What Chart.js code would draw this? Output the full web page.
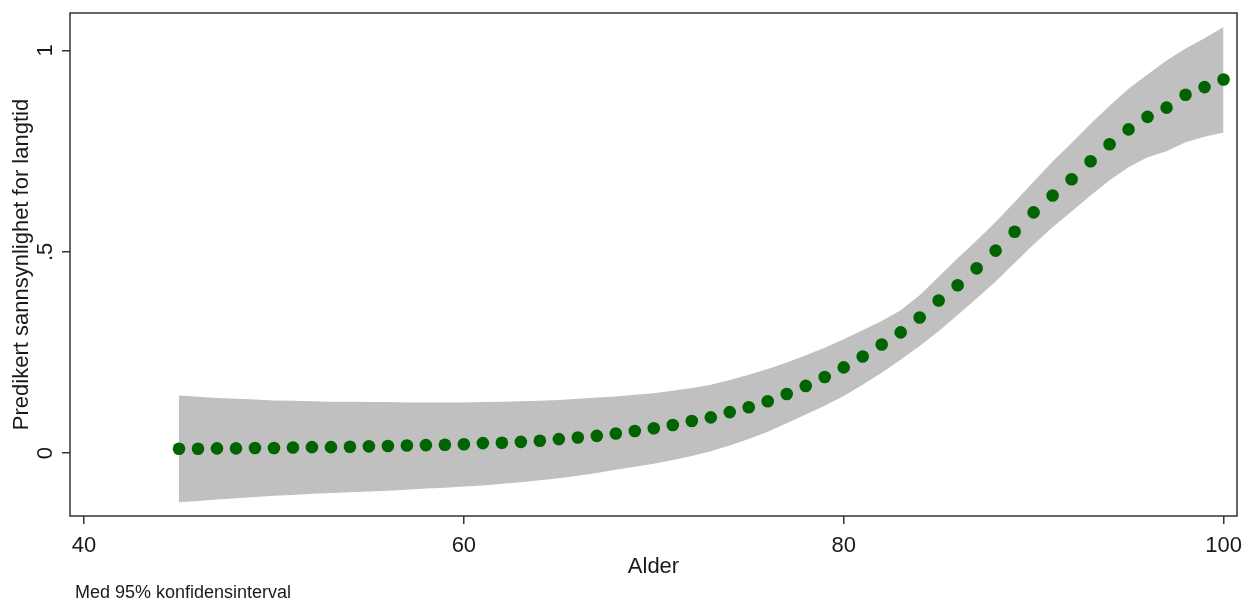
<!DOCTYPE html>
<html>
<head>
<meta charset="utf-8">
<script src="https://cdn.jsdelivr.net/npm/chart.js@4"></script>
<style>
  body { margin: 0; background: #fff; }
  #wrap { width: 1244px; height: 601px; position: relative; }
</style>
</head>
<body>
<div id="wrap"><canvas id="chart"></canvas></div>
<script>
// predicted probability by age, with 95% CI band
var ages = [45, 46, 47, 48, 49, 50, 51, 52, 53, 54, 55, 56, 57, 58, 59, 60, 61, 62, 63, 64,
            65, 66, 67, 68, 69, 70, 71, 72, 73, 74, 75, 76, 77, 78, 79, 80, 81, 82, 83, 84,
            85, 86, 87, 88, 89, 90, 91, 92, 93, 94, 95, 96, 97, 98, 99, 100];

var predicted = [0.011, 0.011, 0.012, 0.012, 0.013, 0.013, 0.014, 0.015, 0.015, 0.016,
                 0.017, 0.018, 0.019, 0.020, 0.021, 0.022, 0.025, 0.026, 0.028, 0.031,
                 0.035, 0.039, 0.043, 0.049, 0.055, 0.062, 0.070, 0.080, 0.089, 0.102,
                 0.114, 0.129, 0.147, 0.167, 0.189, 0.213, 0.240, 0.270, 0.300, 0.337,
                 0.379, 0.417, 0.459, 0.503, 0.550, 0.598, 0.640, 0.680, 0.725, 0.767,
                 0.804, 0.835, 0.858, 0.890, 0.909, 0.928];

var ciUpper = [0.143, 0.140, 0.137, 0.135, 0.133, 0.131, 0.130, 0.129, 0.128, 0.128,
               0.127, 0.127, 0.126, 0.126, 0.126, 0.126, 0.127, 0.128, 0.129, 0.130,
               0.132, 0.135, 0.138, 0.141, 0.145, 0.149, 0.155, 0.162, 0.170, 0.182,
               0.195, 0.209, 0.225, 0.243, 0.262, 0.283, 0.305, 0.328, 0.355, 0.392,
               0.438, 0.484, 0.528, 0.574, 0.624, 0.674, 0.724, 0.770, 0.818, 0.863,
               0.905, 0.940, 0.975, 1.005, 1.030, 1.058];

var ciLower = [-0.122, -0.119, -0.115, -0.112, -0.109, -0.106, -0.104, -0.101, -0.099, -0.097,
               -0.095, -0.093, -0.091, -0.088, -0.086, -0.083, -0.080, -0.076, -0.072, -0.067,
               -0.062, -0.056, -0.049, -0.041, -0.034, -0.026, -0.017, -0.007, 0.005, 0.019,
               0.035, 0.053, 0.074, 0.096, 0.118, 0.142, 0.170, 0.200, 0.232, 0.266,
               0.303, 0.343, 0.384, 0.426, 0.472, 0.518, 0.561, 0.600, 0.640, 0.678,
               0.710, 0.735, 0.750, 0.772, 0.786, 0.796];

var xTicks = [40, 60, 80, 100];
var yTicks = [0, 0.5, 1];
var yTickLabels = ['0', '.5', '1'];

var FONT = 'Liberation Sans, Arial, sans-serif';
var INK = '#1a1a1a';

function toPoints(xs, ys) {
    return xs.map(function (x, i) { return { x: x, y: ys[i] }; });
}

// frame, tick labels, axis titles and the note underneath
var stataDecor = {
    id: 'stataDecor',
    afterDraw: function (chart) {
        var ctx = chart.ctx;
        var area = chart.chartArea;
        var xScale = chart.scales.x;
        var yScale = chart.scales.y;
        ctx.save();
        ctx.strokeStyle = '#333';
        ctx.lineWidth = 1.5;
        ctx.strokeRect(area.left, area.top, area.right - area.left, area.bottom - area.top);

        ctx.fillStyle = INK;
        ctx.font = '22px ' + FONT;
        ctx.textAlign = 'center';
        ctx.textBaseline = 'alphabetic';

        xTicks.forEach(function (v) {
            ctx.fillText(String(v), xScale.getPixelForValue(v), 552);
        });

        yTicks.forEach(function (v, i) {
            var py = yScale.getPixelForValue(v);
            ctx.save();
            ctx.translate(52, py);
            ctx.rotate(-Math.PI / 2);
            ctx.fillText(yTickLabels[i], 0, 0);
            ctx.restore();
        });

        ctx.save();
        ctx.translate(28, (area.top + area.bottom) / 2);
        ctx.rotate(-Math.PI / 2);
        ctx.fillText('Predikert sannsynlighet for langtid', 0, 0);
        ctx.restore();

        ctx.fillText('Alder', (area.left + area.right) / 2, 573);

        ctx.font = '18px ' + FONT;
        ctx.textAlign = 'left';
        ctx.fillText('Med 95% konfidensinterval', 75, 598);
        ctx.restore();
    }
};

new Chart(document.getElementById('chart'), {
    type: 'line',
    data: {
        datasets: [
            {
                label: 'Predikert',
                data: toPoints(ages, predicted),
                showLine: false,
                pointRadius: 6.3,
                pointBackgroundColor: '#006400',
                pointBorderWidth: 0
            },
            {
                label: 'KI øvre',
                data: toPoints(ages, ciUpper),
                borderWidth: 0,
                pointRadius: 0,
                tension: 0,
                backgroundColor: '#c0c0c0',
                fill: '+1'
            },
            {
                label: 'KI nedre',
                data: toPoints(ages, ciLower),
                borderWidth: 0,
                pointRadius: 0,
                tension: 0,
                fill: false
            }
        ]
    },
    options: {
        responsive: true,
        maintainAspectRatio: false,
        animation: false,
        layout: { padding: { top: 13, right: 7, left: 0, bottom: 0 }, autoPadding: false },
        plugins: { legend: { display: false }, tooltip: { enabled: false } },
        scales: {
            x: {
                type: 'linear',
                min: 39.26,
                max: 100.71,
                afterBuildTicks: function (scale) {
                    scale.ticks = xTicks.map(function (v) { return { value: v }; });
                },
                afterFit: function (scale) { scale.height = 85; },
                grid: { drawOnChartArea: false, drawTicks: true, tickLength: 8, color: '#333', lineWidth: 1.5 },
                border: { display: false },
                ticks: { display: false }
            },
            y: {
                type: 'linear',
                min: -0.156,
                max: 1.093,
                afterBuildTicks: function (scale) {
                    scale.ticks = yTicks.map(function (v) { return { value: v }; });
                },
                afterFit: function (scale) { scale.width = 70; },
                grid: { drawOnChartArea: false, drawTicks: true, tickLength: 8, color: '#333', lineWidth: 1.5 },
                border: { display: false },
                ticks: { display: false }
            }
        }
    },
    plugins: [stataDecor]
});
</script>
</body>
</html>
